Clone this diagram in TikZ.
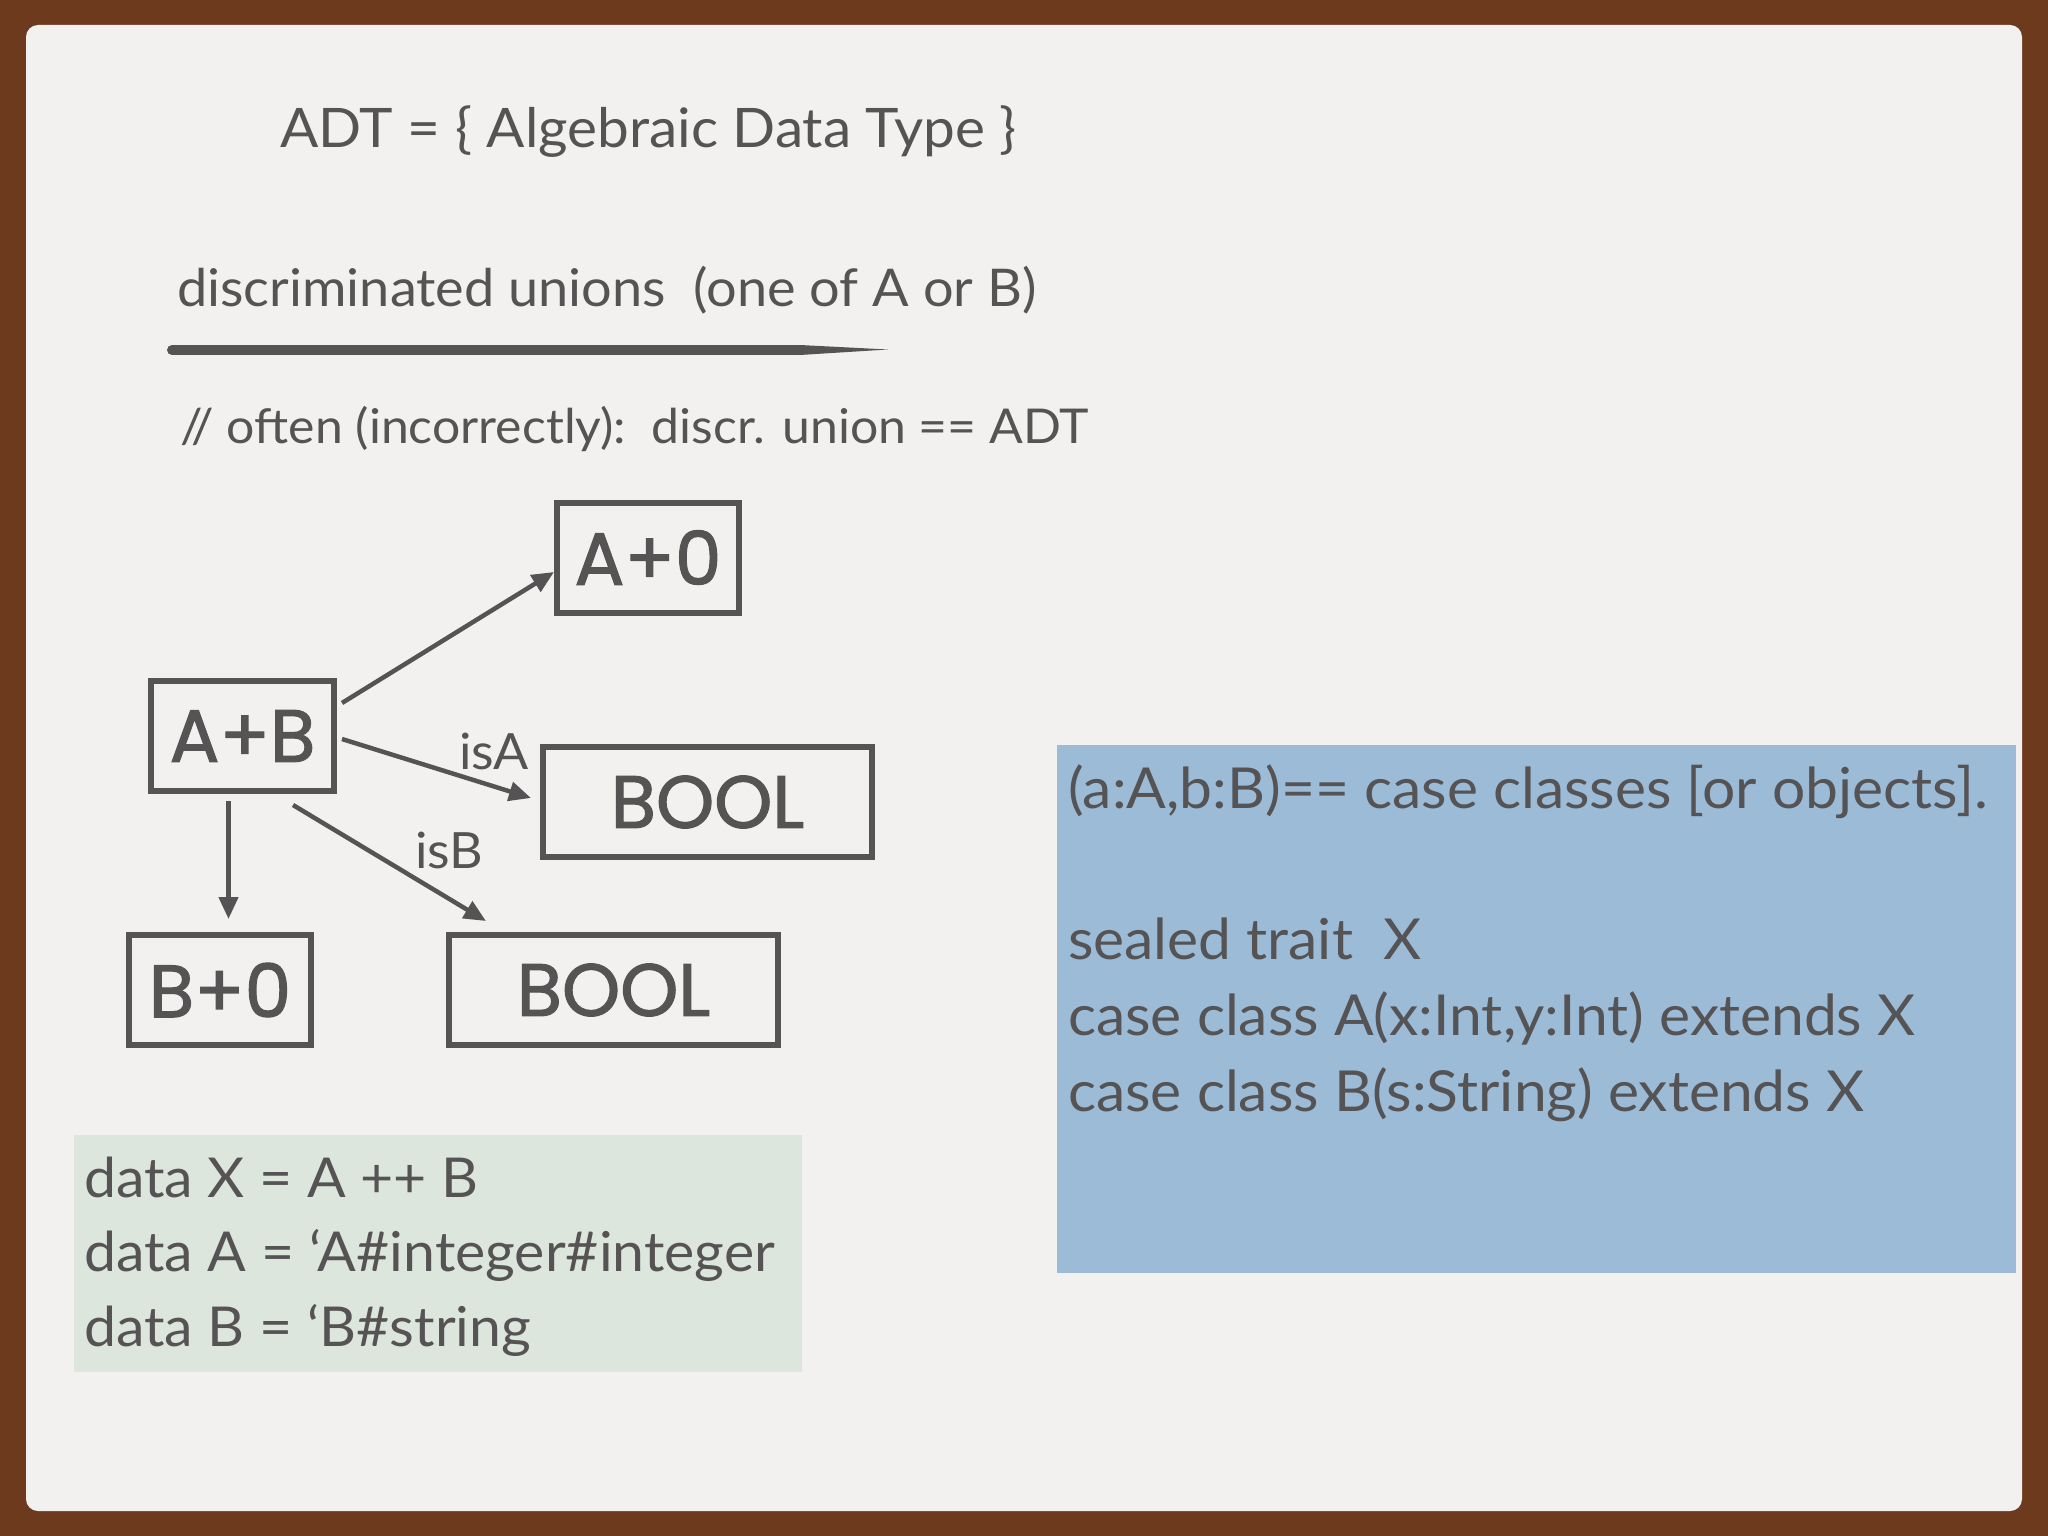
\documentclass[tikz,border=0pt]{standalone}
\usepackage{fontspec}
\setmainfont{Lato}[FakeStretch=1.04]
\newfontfamily\boxfont{Poppins}[FakeBold=1.6]
\usetikzlibrary{arrows.meta,calc}
\definecolor{ink}{HTML}{555353}
\definecolor{frame}{HTML}{6E3A1E}
\definecolor{paper}{HTML}{F3F1F0}
\definecolor{greenbg}{HTML}{DDE6DD}
\definecolor{bluebg}{HTML}{9BBBD7}
\tikzset{
 txt/.style={anchor=base west, inner sep=0pt, text=ink},
 tbox/.style={draw=ink, line width=6pt, inner sep=0pt, text=ink, font=\boxfont\fontsize{74}{74}\selectfont, minimum height=110pt},
 arr/.style={draw=ink, line width=4.5pt, -{Triangle[length=22pt,width=19pt]}},
 lbl/.style={anchor=base west, inner sep=0pt, text=ink, font=\fontsize{50}{50}\selectfont},
 gtxt/.style={txt, font=\fontsize{55}{55}\selectfont},
 btxt/.style={txt, font=\fontsize{56.5}{56.5}\selectfont},
}
\begin{document}
\begin{tikzpicture}[x=1pt,y=-1pt]
\useasboundingbox (0,0) rectangle (2048,1536);
\fill[frame] (0,0) rectangle (2048,1536);
\fill[paper, rounded corners=12pt] (26,25) rectangle (2022,1511);

% headings
\node[txt, font=\fontsize{54.5}{54.5}\selectfont] (title) at (280,148) {ADT = \{ Algebraic Data Type \}};
\node[txt, font=\fontsize{52}{52}\selectfont] (disc) at (177,306) {discriminated unions\ \ (one of A or B)};
\draw[ink, line width=10pt, line cap=round] (172,350) -- (800,350);
\fill[ink] (800,345) -- (888,349.5) -- (800,355) -- cycle;
\node[txt, font=\fontsize{48}{48}\selectfont] (often) at (180,443) {// often (incorrectly):\ \ discr. union == ADT};

% diagram
\node[tbox, minimum width=182pt] (a0) at (648,557.5) {A+0};
\node[tbox, minimum width=183pt] (ab) at (242.5,736) {A+B};
\node[tbox, minimum width=329pt] (bool1) at (707.5,802) {BOOL};
\node[tbox, minimum width=182pt] (b0) at (220,990) {B+0};
\node[tbox, minimum width=329pt] (bool2) at (613.5,990) {BOOL};

\draw[arr] ($(ab.east)+(5,-33)$) -- ($(a0.west)+(0,14.5)$);
\draw[arr] ($(ab.east)+(5,3)$) -- ($(bool1.west)+(-9,-4)$);
\draw[arr] ($(ab.south)+(50.5,11)$) -- ($(bool2.north west)+(40,-11)$);
\draw[arr] ($(ab.south)+(-14,7)$) -- ($(b0.north)+(8.5,-13)$);
\node[lbl] (isA) at (459,769) {isA};
\node[lbl] (isB) at (415,868) {isB};

% green box
\fill[greenbg] (74,1135) rectangle (802,1372);
\node[gtxt] (g1) at (84,1197) {data X = A ++ B};
\node[gtxt] (g2) at (84,1271) {data A = ‘A\#integer\#integer};
\node[gtxt] (g3) at (84,1346) {data B = ‘B\#string};

% blue box
\fill[bluebg] (1057,745) rectangle (2016,1273);
\node[btxt] (b1) at (1068,808) {(a:A,b:B)== case classes [or objects].};
\node[btxt] (b2) at (1068,959) {sealed trait\ \ X};
\node[btxt] (b3) at (1068,1035) {case class A(x:Int,y:Int) extends X};
\node[btxt] (b4) at (1068,1111) {case class B(s:String) extends X};
\end{tikzpicture}
\end{document}
